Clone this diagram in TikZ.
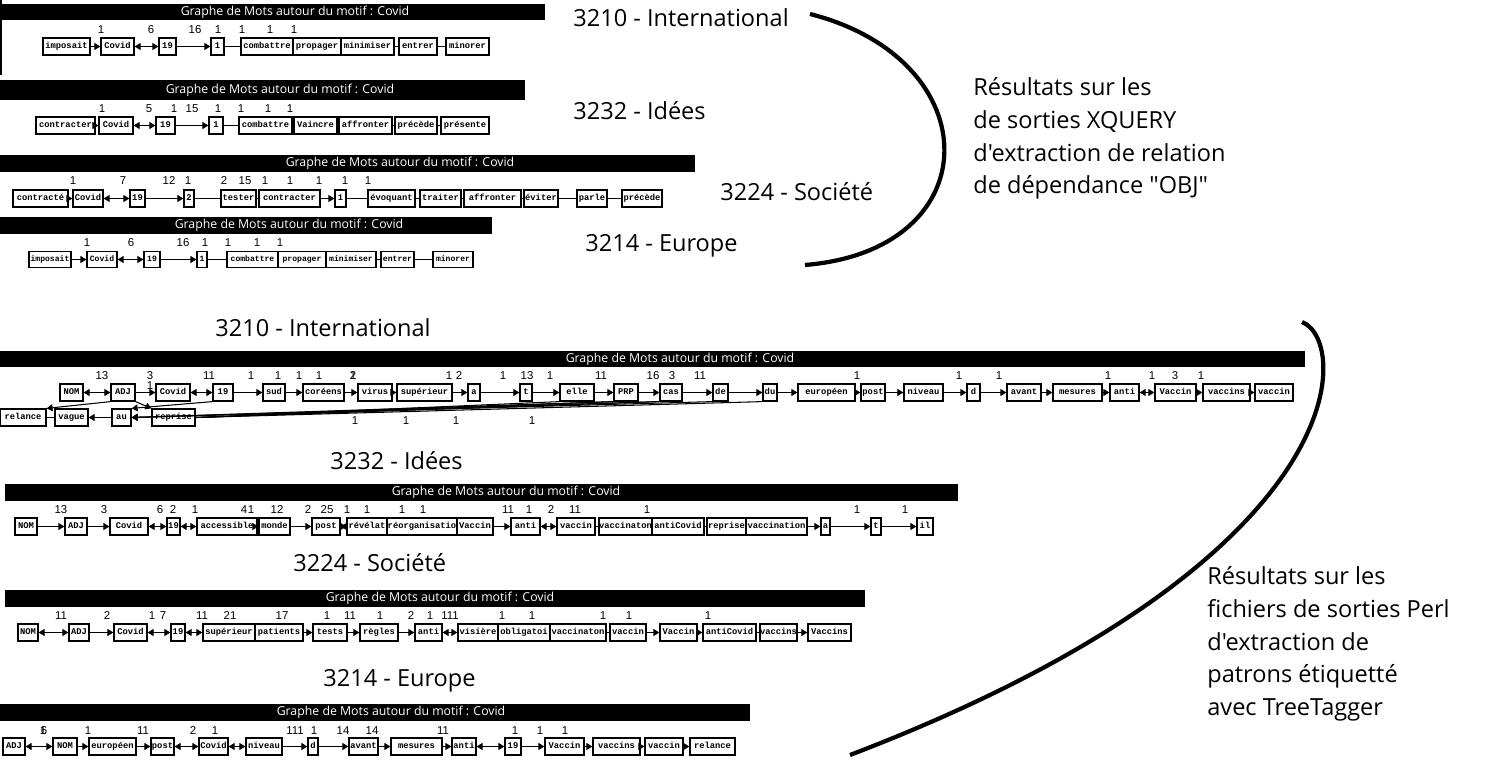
\documentclass[tikz,border=0pt]{standalone}
\usepackage{fontspec}
\setmainfont{Open Sans}[Ligatures=TeXOff]
\newfontfamily\boxfont{Liberation Mono}
\newfontfamily\numfont{Liberation Sans}
\usetikzlibrary{arrows.meta}

\tikzset{
  wbox/.style={draw, line width=0.7pt, inner sep=0pt, minimum height=0.34cm,
    text height=3.4pt, text depth=1pt,
    font=\boxfont\bfseries\fontsize{5}{5}\selectfont},
  num/.style={inner sep=0pt, font=\numfont\fontsize{6.5}{7}\selectfont},
  bartitle/.style={text=white, inner sep=0pt, font=\fontsize{7}{8}\selectfont},
  lbl/.style={inner sep=0pt, anchor=west, font=\fontsize{13.4}{18.7}\selectfont},
  link/.style={line width=0.6pt},
  arr/.style={link, -{Triangle[length=0.12cm, width=0.14cm]}},
  darr/.style={link, {Triangle[length=0.12cm, width=0.14cm]}-{Triangle[length=0.12cm, width=0.14cm]}},
  brace/.style={line width=2.4pt},
}
% word box from x1 to x2 (pixels) on the current row
\newcommand{\wb}[4]{\node[wbox, minimum width={(#3-#2)*0.02cm}] (#1) at ({(#2+#3)/2},\rowy) {#4};}

\begin{document}
\begin{tikzpicture}[x=0.02cm, y=-0.02cm]
\useasboundingbox (0,0) rectangle (1510,776);

% ===== XQUERY : 3210 - International
\fill (0,4) rectangle (545,20);
\draw[line width=1.5pt] (0.75,0) -- (0.75,75);
\node[bartitle] (t1title) at (295,12.5) {Graphe de Mots autour du motif : Covid};
\def\rowy{46.5}
\wb{t1-imposait}{43}{90}{imposait}
\wb{t1-Covid}{101}{134}{Covid}
\wb{t1-19}{159}{176}{19}
\wb{t1-1}{211}{224}{1}
\wb{t1-combattre}{241}{293}{combattre}
\wb{t1-propager}{293}{341}{propager}
\wb{t1-minimiser}{341}{394}{minimiser}
\wb{t1-entrer}{399}{437}{entrer}
\wb{t1-minorer}{446}{489}{minorer}
\foreach \x/\t [count=\i] in {101/1,151/6,195/16,218/1,242/1,270/1,294/1}
  \node[num] (t1n\i) at (\x,30) {\t};
\draw[arr] (t1-imposait) -- (t1-Covid);
\draw[darr] (t1-Covid) -- (t1-19);
\draw[arr] (t1-19) -- (t1-1);
\draw[link] (t1-1) -- (t1-combattre);
\draw[link] (t1-minimiser) -- (t1-entrer);
\draw[link] (t1-entrer) -- (t1-minorer);

% ===== XQUERY : 3232 - Idees
\fill (0,80) rectangle (525,100);
\node[bartitle] (t2title) at (280,90) {Graphe de Mots autour du motif : Covid};
\def\rowy{125.5}
\wb{t2-contracter}{36}{95}{contracter}
\wb{t2-Covid}{99}{133}{Covid}
\wb{t2-19}{156}{175}{19}
\wb{t2-1}{209}{223}{1}
\wb{t2-combattre}{239}{292}{combattre}
\wb{t2-Vaincre}{294}{337}{Vaincre}
\wb{t2-affronter}{339}{392}{affronter}
\wb{t2-precede}{395}{437}{précède}
\wb{t2-presente}{441}{489}{présente}
\foreach \x/\t [count=\i] in {102/1,149/5,174/1,192/15,218/1,241/1,268/1,290/1}
  \node[num] (t2n\i) at (\x,109) {\t};
\draw[arr] (t2-contracter) -- (t2-Covid);
\draw[darr] (t2-Covid) -- (t2-19);
\draw[arr] (t2-19) -- (t2-1);
\draw[link] (t2-1) -- (t2-combattre);
\draw[link] (t2-combattre) -- (t2-Vaincre);
\draw[link] (t2-Vaincre) -- (t2-affronter);
\draw[link] (t2-affronter) -- (t2-precede);
\draw[link] (t2-precede) -- (t2-presente);

% ===== XQUERY : 3224 - Societe
\fill (0,155) rectangle (695,172);
\node[bartitle] (t3title) at (400,163.5) {Graphe de Mots autour du motif : Covid};
\def\rowy{198.5}
\wb{t3-contracte}{13}{68}{contracté}
\wb{t3-Covid}{73}{103}{Covid}
\wb{t3-19}{130}{145}{19}
\wb{t3-2}{184}{194}{2}
\wb{t3-tester}{221}{256}{tester}
\wb{t3-contracter}{259}{320}{contracter}
\wb{t3-1}{335}{346}{1}
\wb{t3-evoquant}{368}{415}{évoquant}
\wb{t3-traiter}{420}{461}{traiter}
\wb{t3-affronter}{464}{521}{affronter}
\wb{t3-eviter}{524}{558}{éviter}
\wb{t3-parle}{577}{607}{parle}
\wb{t3-precede}{622}{662}{précède}
\foreach \x/\t [count=\i] in {73/1,123/7,169/12,188/1,224/2,245/15,265/1,290/1,319/1,345/1,368/1}
  \node[num] (t3n\i) at (\x,181) {\t};
\draw[arr] (t3-contracte) -- (t3-Covid);
\draw[darr] (t3-Covid) -- (t3-19);
\draw[arr] (t3-19) -- (t3-2);
\draw[link] (t3-2) -- (t3-tester);
\draw[link] (t3-tester) -- (t3-contracter);
\draw[arr] (t3-contracter) -- (t3-1);
\draw[link] (t3-1) -- (t3-evoquant);
\draw[link] (t3-evoquant) -- (t3-traiter);
\draw[link] (t3-traiter) -- (t3-affronter);
\draw[link] (t3-affronter) -- (t3-eviter);
\draw[link] (t3-eviter) -- (t3-parle);
\draw[link] (t3-parle) -- (t3-precede);

% ===== XQUERY : 3214 - Europe
\fill (0,217) rectangle (492,234);
\node[bartitle] (t4title) at (289,225.5) {Graphe de Mots autour du motif : Covid};
\begin{scope}[wbox/.append style={minimum height=0.32cm, font=\boxfont\bfseries\fontsize{4.6}{5}\selectfont}]
\def\rowy{259.5}
\wb{t4-imposait}{29}{71}{imposait}
\wb{t4-Covid}{87}{117}{Covid}
\wb{t4-19}{144}{160}{19}
\wb{t4-1}{197}{207}{1}
\wb{t4-combattre}{227}{278}{combattre}
\wb{t4-propager}{278}{326}{propager}
\wb{t4-minimiser}{326}{376}{minimiser}
\wb{t4-entrer}{381}{414}{entrer}
\wb{t4-minorer}{433}{473}{minorer}
\end{scope}
\foreach \x/\t [count=\i] in {87/1,131/6,183/16,205/1,228/1,257/1,280/1}
  \node[num] (t4n\i) at (\x,243) {\t};
\draw[arr] (t4-imposait) -- (t4-Covid);
\draw[darr] (t4-Covid) -- (t4-19);
\draw[arr] (t4-19) -- (t4-1);
\draw[link] (t4-1) -- (t4-combattre);
\draw[link] (t4-minimiser) -- (t4-entrer);
\draw[link] (t4-entrer) -- (t4-minorer);

% labels and bracket of the XQUERY results
\node[lbl] (l3210a) at (573,18) {3210 - International};
\node[lbl] (l3232a) at (573,111) {3232 - Idées};
\node[lbl] (l3224a) at (720,192) {3224 - Société};
\node[lbl] (l3214a) at (585,246) {3214 - Europe};
\draw[brace] (810,14) .. controls (990,60) and (990,250) .. (805,265);
\node[lbl, anchor=north west, align=left] (xqnote) at (973,77)
  {Résultats sur les\\de sorties XQUERY\\d'extraction de relation\\de dépendance "OBJ"};

% ===== Perl : 3210 - International
\node[lbl] (l3210b) at (215,328) {3210 - International};
\fill (0,351) rectangle (1305,367);
\node[bartitle] (b1title) at (680,359) {Graphe de Mots autour du motif : Covid};
\def\rowy{392.5}
\wb{b1-NOM}{60}{83}{NOM}
\wb{b1-ADJ}{111}{135}{ADJ}
\wb{b1-Covid}{156}{190}{Covid}
\wb{b1-19}{213}{233}{19}
\wb{b1-sud}{263}{285}{sud}
\wb{b1-coreens}{303}{344}{coréens}
\wb{b1-virus}{358}{392}{virus}
\wb{b1-superieur}{397}{452}{supérieur}
\wb{b1-a}{468}{480}{a}
\wb{b1-t}{520}{532}{t}
\wb{b1-elle}{560}{594}{elle}
\wb{b1-PRP}{614}{638}{PRP}
\wb{b1-cas}{660}{682}{cas}
\wb{b1-de}{713}{728}{de}
\wb{b1-du}{763}{777}{du}
\wb{b1-europeen}{798}{855}{européen}
\wb{b1-post}{861}{885}{post}
\wb{b1-niveau}{904}{943}{niveau}
\wb{b1-d}{967}{980}{d}
\wb{b1-avant}{1007}{1041}{avant}
\wb{b1-mesures}{1053}{1102}{mesures}
\wb{b1-anti}{1110}{1139}{anti}
\wb{b1-Vaccin}{1155}{1196}{Vaccin}
\wb{b1-vaccins}{1203}{1250}{vaccins}
\wb{b1-vaccin}{1255}{1293}{vaccin}
\def\rowy{417.5}
\wb{b1-relance}{0}{46}{relance}
\wb{b1-vague}{55}{88}{vague}
\wb{b1-au}{112}{131}{au}
\wb{b1-reprise}{152}{195}{reprise}
\foreach \x/\t [count=\i] in {102/13,150/3,209/11,251/1,278/1,299/1,319/1,353/1,353/2,449/1,459/2,
    503/1,527/13,550/1,601/11,653/16,672/3,700/11,857/1,959/1,999/1,1108/1,1152/1,1175/3,1201/1}
  \node[num] (b1n\i) at (\x,376) {\t};
\node[num] (b1m) at (150,386) {1};
\foreach \x/\t [count=\i] in {355/1,406/1,456/1,532/1}
  \node[num] (b1u\i) at (\x,421) {\t};
\draw[darr] (b1-NOM) -- (b1-ADJ);
\draw[darr] (b1-Covid) -- (b1-19);
\draw[darr] (b1-anti) -- (b1-Vaccin);
\foreach \a/\b in {ADJ/Covid, 19/sud, sud/coreens, coreens/virus, virus/superieur, superieur/a,
    a/t, t/elle, elle/PRP, PRP/cas, cas/de, de/du, du/europeen, europeen/post, post/niveau,
    niveau/d, d/avant, avant/mesures, mesures/anti, Vaccin/vaccins, vaccins/vaccin}
  \draw[arr] (b1-\a) -- (b1-\b);
\draw[arr] (b1-ADJ.south west) -- (b1-relance.north east);
\draw[arr] (b1-ADJ.south east) -- (b1-reprise.north west);
\draw[arr] (b1-19.south west) -- (b1-au.north east);
\draw[link] (b1-relance) -- (b1-vague);
\draw[arr] (b1-au) -- (b1-vague);
\foreach \b in {PRP, cas, de}
  \draw[arr] (b1-\b.south west) -- (b1-au.east);
\foreach \b in {elle, PRP, cas, du}
  \draw[link] (b1-reprise.east) -- (b1-\b.south west);

% ===== Perl : 3232 - Idees
\node[lbl] (l3232b) at (330,461) {3232 - Idées};
\fill (5,484) rectangle (958,501);
\node[bartitle] (b2title) at (506,492.5) {Graphe de Mots autour du motif : Covid};
\def\rowy{526.5}
\wb{b2-NOM}{15}{37}{NOM}
\wb{b2-ADJ}{65}{87}{ADJ}
\wb{b2-Covid}{110}{148}{Covid}
\wb{b2-19}{167}{180}{19}
\wb{b2-accessible}{197}{257}{accessible}
\wb{b2-monde}{259}{290}{monde}
\wb{b2-post}{312}{340}{post}
\wb{b2-revelat}{347}{387}{révélat}
\wb{b2-reorg}{387}{457}{réorganisatio}
\wb{b2-Vaccin}{457}{493}{Vaccin}
\wb{b2-anti}{511}{540}{anti}
\wb{b2-vaccin}{557}{595}{vaccin}
\wb{b2-vaccinaton}{599}{652}{vaccinaton}
\wb{b2-antiCovid}{652}{704}{antiCovid}
\wb{b2-reprise}{707}{746}{reprise}
\wb{b2-vaccination}{746}{807}{vaccination}
\wb{b2-a}{821}{830}{a}
\wb{b2-t}{871}{881}{t}
\wb{b2-il}{917}{933}{il}
\foreach \x/\t [count=\i] in {61/13,104/3,160/6,173/2,195/1,244/4,251/1,277/12,308/2,327/25,347/1,
    367/1,402/1,423/1,508/11,529/1,551/2,575/11,647/1,857/1,905/1}
  \node[num] (b2n\i) at (\x,510) {\t};
\draw[darr] (b2-Covid) -- (b2-19);
\draw[darr] (b2-19) -- (b2-accessible);
\draw[darr] (b2-post) -- (b2-revelat);
\draw[darr] (b2-anti) -- (b2-vaccin);
\foreach \a/\b in {NOM/ADJ, ADJ/Covid, accessible/monde, monde/post, Vaccin/anti,
    vaccination/a, a/t, t/il}
  \draw[arr] (b2-\a) -- (b2-\b);
\draw[link] (b2-vaccin) -- (b2-vaccinaton);
\draw[link] (b2-antiCovid) -- (b2-reprise);

% ===== Perl : 3224 - Societe
\node[lbl] (l3224b) at (293,563) {3224 - Société};
\fill (5,590) rectangle (865,607);
\node[bartitle] (b3title) at (440,598.5) {Graphe de Mots autour du motif : Covid};
\def\rowy{632.5}
\wb{b3-NOM}{18}{38}{NOM}
\wb{b3-ADJ}{69}{89}{ADJ}
\wb{b3-Covid}{114}{147}{Covid}
\wb{b3-19}{171}{185}{19}
\wb{b3-superieur}{203}{255}{supérieur}
\wb{b3-patients}{255}{303}{patients}
\wb{b3-tests}{313}{347}{tests}
\wb{b3-regles}{360}{398}{règles}
\wb{b3-anti}{415}{442}{anti}
\wb{b3-visiere}{458}{498}{visière}
\wb{b3-obligatoi}{498}{550}{obligatoi}
\wb{b3-vaccinaton}{550}{606}{vaccinaton}
\wb{b3-vaccin}{610}{646}{vaccin}
\wb{b3-Vaccin}{660}{697}{Vaccin}
\wb{b3-antiCovid}{703}{756}{antiCovid}
\wb{b3-vaccins}{760}{797}{vaccins}
\wb{b3-Vaccins}{808}{851}{Vaccins}
\foreach \x/\t [count=\i] in {61/11,107/2,152/1,163/7,202/11,230/21,282/17,327/1,350/11,380/1,
    411/2,430/1,450/111,502/1,532/1,603/1,629/1,708/1}
  \node[num] (b3n\i) at (\x,616) {\t};
\draw[darr] (b3-NOM) -- (b3-ADJ);
\draw[darr] (b3-Covid) -- (b3-19);
\draw[darr] (b3-19) -- (b3-superieur);
\draw[darr] (b3-anti) -- (b3-visiere);
\foreach \a/\b in {ADJ/Covid, patients/tests, tests/regles, regles/anti, vaccin/Vaccin,
    Vaccin/antiCovid, vaccins/Vaccins}
  \draw[arr] (b3-\a) -- (b3-\b);
\draw[link] (b3-vaccinaton) -- (b3-vaccin);
\draw[link] (b3-antiCovid) -- (b3-vaccins);

% ===== Perl : 3214 - Europe
\node[lbl] (l3214b) at (323,681) {3214 - Europe};
\fill (0,704) rectangle (750,721);
\node[bartitle] (b4title) at (391,712.5) {Graphe de Mots autour du motif : Covid};
\def\rowy{746.5}
\wb{b4-ADJ}{3}{25}{ADJ}
\wb{b4-NOM}{53}{77}{NOM}
\wb{b4-europeen}{89}{136}{européen}
\wb{b4-post}{151}{174}{post}
\wb{b4-Covid}{199}{228}{Covid}
\wb{b4-niveau}{246}{282}{niveau}
\wb{b4-d}{308}{318}{d}
\wb{b4-avant}{349}{378}{avant}
\wb{b4-mesures}{391}{442}{mesures}
\wb{b4-anti}{452}{476}{anti}
\wb{b4-19}{505}{521}{19}
\wb{b4-Vaccin}{545}{584}{Vaccin}
\wb{b4-vaccins}{593}{640}{vaccins}
\wb{b4-vaccin}{645}{683}{vaccin}
\wb{b4-relance}{690}{735}{relance}
\foreach \x/\t [count=\i] in {43/1,44/6,88/1,143/11,193/2,215/1,295/111,314/1,343/14,372/14,
    443/11,515/1,540/1,565/1}
  \node[num] (b4n\i) at (\x,731) {\t};
\draw[darr] (b4-ADJ) -- (b4-NOM);
\draw[darr] (b4-post) -- (b4-Covid);
\draw[darr] (b4-Covid) -- (b4-niveau);
\draw[darr] (b4-anti) -- (b4-19);
\foreach \a/\b in {NOM/europeen, europeen/post, niveau/d, d/avant, avant/mesures, mesures/anti,
    19/Vaccin, Vaccin/vaccins, vaccins/vaccin, vaccin/relance}
  \draw[arr] (b4-\a) -- (b4-\b);

% bracket and note of the Perl results
\draw[brace] (1302,322) .. controls (1350,340) and (1360,560) .. (850,755);
\node[lbl, anchor=north west, align=left] (perlnote) at (1207,566)
  {Résultats sur les\\fichiers de sorties Perl\\d'extraction de\\patrons étiquetté\\avec TreeTagger};
\end{tikzpicture}
\end{document}
